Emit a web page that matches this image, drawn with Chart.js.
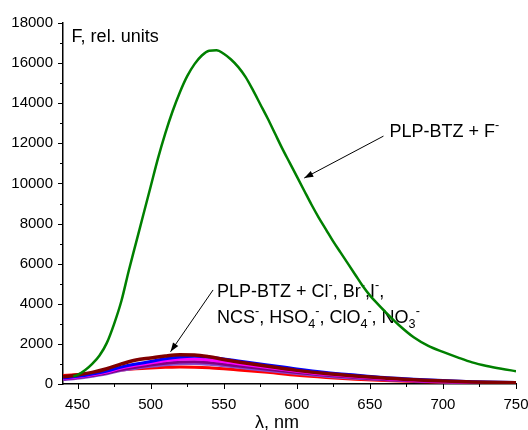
<!DOCTYPE html>
<html>
<head>
<meta charset="utf-8">
<script src="https://cdn.jsdelivr.net/npm/chart.js@4"></script>
<style>
body{margin:0;background:#fff;}
#box{width:528px;height:430px;}
</style>
</head>
<body>
<div id="box"><canvas id="grafico"></canvas></div>
<script>
// wavelengths, nm
const wl=[440,450,460,470,480,490,500,510,520,530,540,550,560,580,600,620,640,660,680,700,720,750];

// PLP-BTZ + other anions
const brownF=[360,450,580,760,1000,1200,1300,1400,1460,1450,1360,1220,1100,880,680,520,400,300,210,150,100,60];
const blueF=[300,380,500,650,850,1000,1120,1260,1350,1380,1340,1250,1150,950,750,580,450,330,240,170,115,70];
const magentaF=[280,350,460,600,800,930,1050,1160,1240,1250,1200,1110,1010,820,640,480,360,260,180,130,90,55];
const purpleF=[250,320,420,550,720,840,950,1040,1100,1110,1070,990,900,730,570,430,320,230,165,115,80,50];
const violetF=[220,290,390,510,680,790,880,960,1010,1020,980,910,830,670,520,390,290,210,150,105,75,45];
const redF=[420,480,540,620,700,760,800,830,850,840,810,760,700,580,440,330,240,170,120,85,60,40];

// PLP-BTZ + F-
const greenWl=[447,450,455,460,465,470,475,480,485,490,495,500,505,510,515,520,525,530,535,540,545,550,555,560,565,570,575,580,585,590,595,600,605,610,615,620,625,630,635,640,645,650,655,660,670,680,690,700,710,720,730,740,750];
const greenF=[380,450,680,1000,1420,2050,3000,4150,5650,7050,8450,9850,11250,12500,13600,14550,15350,15950,16380,16620,16640,16470,16180,15800,15300,14650,13950,13250,12500,11750,11050,10350,9650,8950,8300,7700,7100,6550,6000,5450,4900,4420,4020,3640,2930,2330,1900,1600,1330,1080,900,760,640];

const xTicks=[450,500,550,600,650,700,750];
const yTicks=[0,2000,4000,6000,8000,10000,12000,14000,16000,18000];

function pts(xs,ys){
return xs.map((x,i)=>({x:x,y:ys[i]}));
}

const FONT='"Liberation Sans", Arial, sans-serif';

// text with super/subscripts
function runs(ctx,x,y,parts,size){
parts.forEach(p=>{
let t=p[0],m=p[1];
let s=m?size*0.7:size;
let dy=m=="sup"?-size*0.45:(m=="sub"?size*0.3:0);
ctx.font=s+"px "+FONT;
ctx.fillText(t,x,y+dy);
x+=ctx.measureText(t).width;
});
}

function arrow(ctx,x1,y1,x2,y2){
ctx.strokeStyle="#000";
ctx.fillStyle="#000";
ctx.lineWidth=1;
ctx.beginPath();
ctx.moveTo(x1,y1);
ctx.lineTo(x2,y2);
ctx.stroke();
let a=Math.atan2(y2-y1,x2-x1);
let L=9,W=3.2;
ctx.beginPath();
ctx.moveTo(x2,y2);
ctx.lineTo(x2-L*Math.cos(a)+W*Math.sin(a),y2-L*Math.sin(a)-W*Math.cos(a));
ctx.lineTo(x2-L*Math.cos(a)-W*Math.sin(a),y2-L*Math.sin(a)+W*Math.cos(a));
ctx.closePath();
ctx.fill();
}

const notes={
id:"notes",
beforeDatasetsDraw(chart){
let ctx=chart.ctx,x=chart.scales.x,y=chart.scales.y;
ctx.save();
ctx.fillStyle="#000";
ctx.textBaseline="alphabetic";
runs(ctx,x.getPixelForValue(445.9),y.getPixelForValue(17050),[["F, rel. units",""]],18);
runs(ctx,x.getPixelForValue(663.4),y.getPixelForValue(12310),[["PLP-BTZ + F",""],["-","sup"]],18);
runs(ctx,x.getPixelForValue(545.4),y.getPixelForValue(4340),
[["PLP-BTZ + Cl",""],["-","sup"],[", Br",""],["-","sup"],[",I",""],["-","sup"],[",",""]],18);
runs(ctx,x.getPixelForValue(545.4),y.getPixelForValue(3040),
[["NCS",""],["-","sup"],[", HSO",""],["4","sub"],["-","sup"],[", ClO",""],["4","sub"],["-","sup"],[", NO",""],["3","sub"],["-","sup"]],18);
ctx.restore();
},
afterDatasetsDraw(chart){
let ctx=chart.ctx,x=chart.scales.x,y=chart.scales.y,a=chart.chartArea;
ctx.save();
arrow(ctx,x.getPixelForValue(659.3),y.getPixelForValue(12360),x.getPixelForValue(605.1),y.getPixelForValue(10270));
arrow(ctx,x.getPixelForValue(542.7),y.getPixelForValue(4690),x.getPixelForValue(513.6),y.getPixelForValue(1610));
// ticks, major and minor
ctx.strokeStyle="#000";
ctx.lineWidth=1;
ctx.beginPath();
for(let v=450;v<=750;v+=25){
let px=Math.round(x.getPixelForValue(v))+0.5;
ctx.moveTo(px,a.bottom);
ctx.lineTo(px,a.bottom+(v%50==0?5:3));
}
for(let v=0;v<=18000;v+=1000){
let py=Math.round(y.getPixelForValue(v))+0.5;
ctx.moveTo(a.left,py);
ctx.lineTo(a.left-(v%2000==0?5:3),py);
}
ctx.stroke();
// x title
ctx.fillStyle="#000";
ctx.font="18px "+FONT;
ctx.textAlign="center";
ctx.fillText("\u03bb, nm",277,428);
ctx.restore();
}
};

function line(data,color,w){
return{data:data,borderColor:color,backgroundColor:color,borderWidth:w,pointRadius:0,cubicInterpolationMode:"monotone",fill:false};
}

new Chart(document.getElementById("grafico"),{
type:"line",
data:{
datasets:[
line(pts(greenWl,greenF),"#008000",2.5),
line(pts(wl,brownF),"#800000",3.5),
line(pts(wl,blueF),"#0000ff",3),
line(pts(wl,magentaF),"#ff00ff",3),
line(pts(wl,purpleF),"#800080",3),
line(pts(wl,violetF),"#8a4ad0",3),
line(pts(wl,redF),"#ff0000",3)
]
},
options:{
responsive:true,
maintainAspectRatio:false,
animation:false,
layout:{padding:{top:23,right:0,left:0,bottom:0}},
plugins:{legend:{display:false},tooltip:{enabled:false}},
scales:{
x:{
type:"linear",min:440,max:750,
afterFit(s){s.height=46;s.paddingRight=12;s.paddingLeft=0;},
afterBuildTicks(s){s.ticks=xTicks.map(v=>({value:v}));},
grid:{display:false,drawTicks:false},
border:{display:true,color:"#000",width:1.5},
ticks:{color:"#000",padding:12,font:{family:FONT,size:15},callback:v=>String(v)}
},
y:{
min:0,max:18000,
afterFit(s){s.width=63;},
afterBuildTicks(s){s.ticks=yTicks.map(v=>({value:v}));},
grid:{display:false,drawTicks:false},
border:{display:true,color:"#000",width:1.5},
ticks:{color:"#000",padding:10,font:{family:FONT,size:15},callback:v=>String(v)}
}
}
},
plugins:[notes]
});
</script>
</body>
</html>
